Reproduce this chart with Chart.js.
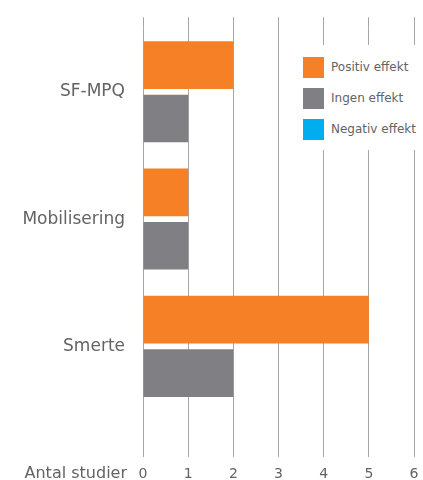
<!DOCTYPE html>
<html>
<head>
<meta charset="utf-8">
<script src="https://cdn.jsdelivr.net/npm/chart.js@4.4.1/dist/chart.umd.min.js"></script>
<style>
  body { margin: 0; background: #fff; }
  #wrap { position: relative; width: 423px; height: 480px; }
  #legend { position: absolute; left: 298px; top: 45px; width: 125px; height: 105px; background: #fff; font-family: 'DejaVu Sans', sans-serif; font-size: 12px; color: #636363; }
  .item { position: absolute; left: 5px; height: 21px; line-height: 21px; white-space: nowrap; }
  .box { display: inline-block; width: 21px; height: 21px; vertical-align: top; margin-right: 7px; }
</style>
</head>
<body>
<div id="wrap">
  <canvas id="chart" width="423" height="480"></canvas>
  <div id="legend"></div>
</div>
<script>
const categories = ['SF-MPQ', 'Mobilisering', 'Smerte'];
const positiv = [2, 1, 5];
const ingen = [1, 1, 2];
const negativ = [0, 0, 0];
const seriesNames = ['Positiv effekt', 'Ingen effekt', 'Negativ effekt'];
const xMin = 0, xMax = 6;

const textColor = '#636363';
const gridColor = '#a6a6a6';
const font = "'DejaVu Sans', sans-serif";

// "Antal studier" sits left of the x tick labels
const axisLabel = {
  id: 'axisLabel',
  afterDraw(chart) {
    const ctx = chart.ctx;
    const x = chart.scales.x;
    ctx.save();
    ctx.font = '16px ' + font;
    ctx.fillStyle = textColor;
    ctx.textAlign = 'right';
    ctx.textBaseline = 'middle';
    ctx.fillText('Antal studier', x.left - 16, 474);
    ctx.restore();
  }
};

const chart = new Chart(document.getElementById('chart'), {
  type: 'bar',
  data: {
    labels: categories,
    datasets: [
      { label: seriesNames[0], data: positiv, backgroundColor: '#f58025' },
      { label: seriesNames[1], data: ingen, backgroundColor: '#808084' },
      { label: seriesNames[2], data: negativ, backgroundColor: '#00aeef', hidden: true }
    ]
  },
  options: {
    indexAxis: 'y',
    responsive: false,
    animation: false,
    categoryPercentage: 0.84,
    barPercentage: 0.89,
    layout: { padding: { top: 15, right: 0, left: 0, bottom: 0 } },
    plugins: { legend: { display: false }, tooltip: { enabled: false } },
    scales: {
      x: {
        min: xMin, max: xMax,
        ticks: { stepSize: 1, color: textColor, font: { family: font, size: 14 }, padding: 9 },
        grid: { color: gridColor, tickLength: 47 },
        border: { display: false },
        afterFit(s) { s.height = 70; s.paddingRight = 9; }
      },
      x2: {
        position: 'top',
        min: xMin, max: xMax,
        ticks: { display: false, stepSize: 1 },
        grid: { color: gridColor, tickLength: 11, drawOnChartArea: false },
        border: { display: false },
        afterFit(s) { s.height = 11; }
      },
      y: {
        ticks: { color: textColor, font: { family: font, size: 17 }, padding: 18 },
        grid: { display: false, drawTicks: false },
        border: { display: false },
        afterFit(s) { s.width = 143; }
      }
    }
  },
  plugins: [axisLabel]
});

const legend = document.getElementById('legend');
chart.data.datasets.forEach((ds, i) => {
  const item = document.createElement('div');
  item.className = 'item';
  item.style.top = (12 + i * 31) + 'px';
  item.innerHTML = '<span class="box" style="background:' + ds.backgroundColor + '"></span>' + ds.label;
  legend.appendChild(item);
});
</script>
</body>
</html>
